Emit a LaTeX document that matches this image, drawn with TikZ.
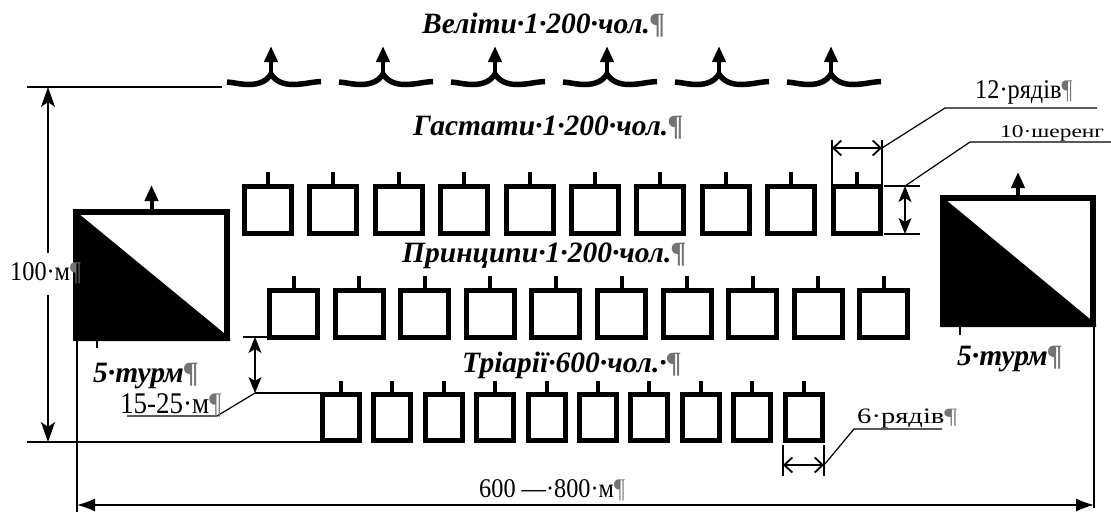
\documentclass[tikz,border=0pt]{standalone}
\usepackage{fontspec}
\usepackage{graphicx}
\setmainfont{Liberation Serif}
\usetikzlibrary{arrows.meta}
\newcommand{\pilc}{\textcolor{black!55}{¶}}
\tikzset{
  unitlbl/.style={font=\fontsize{29.5}{29.5}\selectfont\bfseries\itshape, inner sep=0pt, anchor=base west},
  dimlbl/.style={font=\fontsize{27}{27}\selectfont, inner sep=0pt, anchor=base west},
  thinln/.style={line width=1.2pt},
  troopbox/.style={draw, line width=5pt, rectangle, inner sep=0pt, outer sep=0pt},
  hbox/.style={troopbox, minimum width=47pt, minimum height=47pt},
  pbox/.style={troopbox, minimum width=48pt, minimum height=47pt},
  tbox/.style={troopbox, minimum width=37pt, minimum height=46pt},
  sqbox/.style={draw, line width=6pt, rectangle, inner sep=0pt, outer sep=0pt, minimum width=151pt, minimum height=126pt},
  flagtick/.style={line width=4pt},
  velite/.style={line width=5.5pt},
  upar/.style={line width=4pt, -{Triangle[length=16pt,width=13pt]}},
  sarr/.style={line width=1.3pt, -{Stealth[length=20pt,width=14pt,inset=5pt]}},
  darr/.style={line width=1.3pt, {Stealth[length=16pt,width=13pt,inset=4pt]}-{Stealth[length=16pt,width=13pt,inset=4pt]}},
  barr/.style={line width=1.8pt, {Straight Barb[length=8pt,width=15pt]}-{Straight Barb[length=8pt,width=15pt]}},
  larr/.style={line width=1.3pt, {Latex[length=18pt,width=13pt]}-{Latex[length=18pt,width=13pt]}},
}
\begin{document}
\begin{tikzpicture}[x=1pt,y=-1pt]
\useasboundingbox (0,0) rectangle (1111,514);
\clip (0,0) rectangle (1111,514);

% unit labels
\node[unitlbl] (velt) at (422,33) {Веліти·1·200·чол.\pilc};
\node[unitlbl] (hast) at (413,135) {Гастати·1·200·чол.\pilc};
\node[unitlbl] (prin) at (402,262) {Принципи·1·200·чол.\pilc};
\node[unitlbl] (tria) at (462,372) {Тріарії·600·чол.·\pilc};
\node[unitlbl] (turl) at (93,382) {5·турм\pilc};
\node[unitlbl] (turr) at (957,365) {5·турм\pilc};

% velites
\foreach \cx in {271,383,495,607,719,831} {
  \begin{scope}[shift={(\cx,0)}]
    \draw[velite] (-44,82) .. controls (-38,82.3) and (-31,84.5) .. (-22,84.5)
       .. controls (-12,84.5) and (-4,81) .. (0,74)
       .. controls (4,81) and (12,84.5) .. (22,84.5)
       .. controls (32,84.5) and (42,81.8) .. (50,81.5);
    \draw[upar] (0,76) -- (0,46);
  \end{scope}
}

% troop boxes
\foreach \i in {0,...,9} {
  \node[hbox] (h\i) at ({268+65.4*\i},209.5) {};
  \draw[flagtick] (h\i.north) -- ++(0,-14);
  \node[pbox] (p\i) at ({293.5+65.6*\i},314) {};
  \draw[flagtick] (p\i.north) -- ++(0,-15);
  \node[tbox] (t\i) at ({341+51.4*\i},417.5) {};
  \draw[flagtick] (t\i.north) -- ++(0,-14);
}

% turmae
\fill (73,209) -- (230,338) -- (230,341) -- (73,341) -- cycle;
\node[sqbox] (sql) at (151.5,275) {};
\draw[upar] (sql.north) -- ++(0,-27);
\fill (940,195) -- (1096,324) -- (1096,327) -- (940,327) -- cycle;
\node[sqbox, minimum width=150pt] (sqr) at (1018,261) {};
\draw[upar] (sqr.north) -- ++(0,-26);
\draw[thinln] (97,341) -- (97,348);
\draw[thinln] (960,327) -- (960,335);

% 100 m
\coordinate (a100t) at (48,87);
\coordinate (a100b) at (48,442);
\coordinate (g100t) at (48,253);
\coordinate (g100b) at (48,295);
\draw[thinln] (27,87) -- (222,87);
\draw[thinln] (27,442) -- (322,442);
\draw[sarr] (g100t) -- (a100t);
\draw[sarr] (g100b) -- (a100b);
\node[dimlbl] (l100) at (10,280) {\scalebox{0.9}[1]{100·м\pilc}};

% 600-800 m
\coordinate (a6l) at (77,505);
\coordinate (a6r) at (1094,505);
\draw[thinln] (77,341) -- (77,512);
\draw[thinln] (1094,327) -- (1094,508);
\draw[larr] (a6l) -- (a6r);
\node[dimlbl] (l600) at (479,497) {\scalebox{0.9}[1]{600 —·800·м\pilc}};

% 15-25 m
\coordinate (a15t) at (255,337);
\coordinate (a15b) at (255,393);
\draw[thinln] (243,337) -- (268,337);
\draw[thinln] (a15b) -- (322,393);
\draw[darr] (a15t) -- (a15b);
\draw[thinln] (a15b) -- (217,416) -- (127,416);
\node[dimlbl, font=\fontsize{30}{30}\selectfont] (l15) at (120,413) {\scalebox{0.9}[1]{15-25·м\pilc}};

% 12 rows
\coordinate (a12l) at (832,148);
\coordinate (a12r) at (882,148);
\draw[thinln] (832,140) -- (832,184);
\draw[thinln] (882,140) -- (882,184);
\draw[barr] (a12l) -- (a12r);
\draw[thinln] (a12r) -- (945,108) -- (1097,108);
\node[dimlbl] (l12) at (975,98) {\scalebox{0.9}[1]{12·рядів\pilc}};

% 10 ranks
\coordinate (a10t) at (905,186);
\coordinate (a10b) at (905,234);
\draw[thinln] (884,186) -- (920,186);
\draw[thinln] (884,234) -- (920,234);
\draw[darr] (a10t) -- (a10b);
\draw[thinln] (a10t) -- (970,142) -- (1111,142);
\node[dimlbl, font=\fontsize{18}{18}\selectfont] (l10) at (1000,137) {\scalebox{1.3}[1]{10·шеренг}};

% 6 rows
\coordinate (a6rl) at (783,465);
\coordinate (a6rr) at (824,465);
\draw[thinln] (783,445) -- (783,476);
\draw[thinln] (824,445) -- (824,476);
\draw[barr] (a6rl) -- (a6rr);
\draw[thinln] (a6rr) -- (854,429) -- (942,429);
\node[dimlbl, font=\fontsize{22}{22}\selectfont] (l6) at (857,423) {\scalebox{1.3}[1]{6·рядів\pilc}};
\end{tikzpicture}
\end{document}
